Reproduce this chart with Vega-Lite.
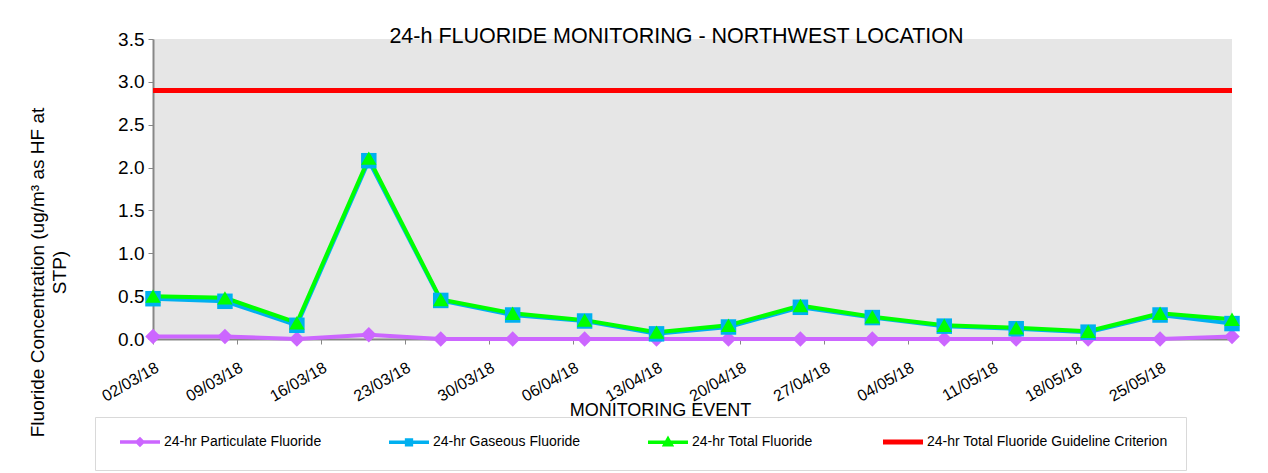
{
  "$schema": "https://vega.github.io/schema/vega-lite/v6.json",
  "width": 1079,
  "height": 300,
  "autosize": {"type": "none"},
  "padding": {"left": 153, "top": 39, "right": 36, "bottom": 134},
  "background": "white",
  "config": {
    "view": {"fill": "#E6E6E6", "stroke": null},
    "font": "Liberation Sans"
  },
  "title": {
    "text": "24-h FLUORIDE MONITORING - NORTHWEST LOCATION",
    "fontSize": 21.5,
    "fontWeight": "normal",
    "color": "#000000",
    "anchor": "middle",
    "frame": "group",
    "baseline": "alphabetic",
    "offset": 0,
    "dx": -16,
    "dy": 34
  },
  "datasets": {
    "obs": [
      {"date": "2018-03-02", "series": "24-hr Particulate Fluoride", "value": 0.03},
      {"date": "2018-03-08", "series": "24-hr Particulate Fluoride", "value": 0.03},
      {"date": "2018-03-14", "series": "24-hr Particulate Fluoride", "value": 0.0},
      {"date": "2018-03-20", "series": "24-hr Particulate Fluoride", "value": 0.05},
      {"date": "2018-03-26", "series": "24-hr Particulate Fluoride", "value": 0.0},
      {"date": "2018-04-01", "series": "24-hr Particulate Fluoride", "value": 0.0},
      {"date": "2018-04-07", "series": "24-hr Particulate Fluoride", "value": 0.0},
      {"date": "2018-04-13", "series": "24-hr Particulate Fluoride", "value": 0.0},
      {"date": "2018-04-19", "series": "24-hr Particulate Fluoride", "value": 0.0},
      {"date": "2018-04-25", "series": "24-hr Particulate Fluoride", "value": 0.0},
      {"date": "2018-05-01", "series": "24-hr Particulate Fluoride", "value": 0.0},
      {"date": "2018-05-07", "series": "24-hr Particulate Fluoride", "value": 0.0},
      {"date": "2018-05-13", "series": "24-hr Particulate Fluoride", "value": 0.0},
      {"date": "2018-05-19", "series": "24-hr Particulate Fluoride", "value": 0.0},
      {"date": "2018-05-25", "series": "24-hr Particulate Fluoride", "value": 0.0},
      {"date": "2018-05-31", "series": "24-hr Particulate Fluoride", "value": 0.03},
      {"date": "2018-03-02", "series": "24-hr Gaseous Fluoride", "value": 0.47},
      {"date": "2018-03-08", "series": "24-hr Gaseous Fluoride", "value": 0.44},
      {"date": "2018-03-14", "series": "24-hr Gaseous Fluoride", "value": 0.16},
      {"date": "2018-03-20", "series": "24-hr Gaseous Fluoride", "value": 2.08},
      {"date": "2018-03-26", "series": "24-hr Gaseous Fluoride", "value": 0.45},
      {"date": "2018-04-01", "series": "24-hr Gaseous Fluoride", "value": 0.28},
      {"date": "2018-04-07", "series": "24-hr Gaseous Fluoride", "value": 0.21},
      {"date": "2018-04-13", "series": "24-hr Gaseous Fluoride", "value": 0.06},
      {"date": "2018-04-19", "series": "24-hr Gaseous Fluoride", "value": 0.14},
      {"date": "2018-04-25", "series": "24-hr Gaseous Fluoride", "value": 0.37},
      {"date": "2018-05-01", "series": "24-hr Gaseous Fluoride", "value": 0.25},
      {"date": "2018-05-07", "series": "24-hr Gaseous Fluoride", "value": 0.15},
      {"date": "2018-05-13", "series": "24-hr Gaseous Fluoride", "value": 0.12},
      {"date": "2018-05-19", "series": "24-hr Gaseous Fluoride", "value": 0.08},
      {"date": "2018-05-25", "series": "24-hr Gaseous Fluoride", "value": 0.28},
      {"date": "2018-05-31", "series": "24-hr Gaseous Fluoride", "value": 0.18},
      {"date": "2018-03-02", "series": "24-hr Total Fluoride", "value": 0.50},
      {"date": "2018-03-08", "series": "24-hr Total Fluoride", "value": 0.48},
      {"date": "2018-03-14", "series": "24-hr Total Fluoride", "value": 0.19},
      {"date": "2018-03-20", "series": "24-hr Total Fluoride", "value": 2.11},
      {"date": "2018-03-26", "series": "24-hr Total Fluoride", "value": 0.46},
      {"date": "2018-04-01", "series": "24-hr Total Fluoride", "value": 0.30},
      {"date": "2018-04-07", "series": "24-hr Total Fluoride", "value": 0.22},
      {"date": "2018-04-13", "series": "24-hr Total Fluoride", "value": 0.08},
      {"date": "2018-04-19", "series": "24-hr Total Fluoride", "value": 0.16},
      {"date": "2018-04-25", "series": "24-hr Total Fluoride", "value": 0.39},
      {"date": "2018-05-01", "series": "24-hr Total Fluoride", "value": 0.26},
      {"date": "2018-05-07", "series": "24-hr Total Fluoride", "value": 0.16},
      {"date": "2018-05-13", "series": "24-hr Total Fluoride", "value": 0.13},
      {"date": "2018-05-19", "series": "24-hr Total Fluoride", "value": 0.09},
      {"date": "2018-05-25", "series": "24-hr Total Fluoride", "value": 0.30},
      {"date": "2018-05-31", "series": "24-hr Total Fluoride", "value": 0.23}
    ],
    "guide": [
      {"series": "24-hr Total Fluoride Guideline Criterion", "value": 2.9}
    ]
  },
  "layer": [
    {
      "data": {"name": "guide"},
      "mark": {"type": "rule", "strokeWidth": 5},
      "encoding": {
        "y": {"field": "value", "type": "quantitative", "scale": {"domain": [0, 3.5], "nice": false}},
        "color": {"field": "series", "type": "nominal"}
      }
    },
    {
      "data": {"name": "obs"},
      "mark": {"type": "line", "strokeWidth": 4},
      "encoding": {
        "x": {
          "field": "date",
          "type": "temporal",
          "scale": {
            "type": "utc",
            "domain": [
              {"year": 2018, "month": 3, "date": 2, "utc": true},
              {"year": 2018, "month": 5, "date": 31, "utc": true}
            ],
            "nice": false
          },
          "axis": {
            "title": "MONITORING EVENT",
            "values": [
              {"year": 2018, "month": 3, "date": 2, "utc": true},
              {"year": 2018, "month": 3, "date": 9, "utc": true},
              {"year": 2018, "month": 3, "date": 16, "utc": true},
              {"year": 2018, "month": 3, "date": 23, "utc": true},
              {"year": 2018, "month": 3, "date": 30, "utc": true},
              {"year": 2018, "month": 4, "date": 6, "utc": true},
              {"year": 2018, "month": 4, "date": 13, "utc": true},
              {"year": 2018, "month": 4, "date": 20, "utc": true},
              {"year": 2018, "month": 4, "date": 27, "utc": true},
              {"year": 2018, "month": 5, "date": 4, "utc": true},
              {"year": 2018, "month": 5, "date": 11, "utc": true},
              {"year": 2018, "month": 5, "date": 18, "utc": true},
              {"year": 2018, "month": 5, "date": 25, "utc": true}
            ],
            "format": "%d/%m/%y",
            "labelAngle": -30,
            "labelFontSize": 16,
            "labelColor": "#000000",
            "labelPadding": 15,
            "labelFlush": false,
            "labelOverlap": false,
            "tickColor": "#878787",
            "tickSize": 5,
            "tickWidth": 1,
            "domainColor": "#878787",
            "domainWidth": 2,
            "grid": false,
            "titleFontSize": 18,
            "titleFontWeight": "normal",
            "titleColor": "#000000",
            "titleX": 507,
            "titleY": 76,
            "titleAlign": "center",
            "titleBaseline": "alphabetic"
          }
        },
        "y": {
          "field": "value",
          "type": "quantitative",
          "scale": {"domain": [0, 3.5], "nice": false},
          "axis": {
            "title": ["Fluoride Concentration (ug/m³ as HF at", "STP)"],
            "values": [0, 0.5, 1, 1.5, 2, 2.5, 3, 3.5],
            "format": ".1f",
            "labelFontSize": 19,
            "labelColor": "#000000",
            "labelPadding": 4,
            "tickColor": "#878787",
            "tickSize": 5,
            "domainColor": "#878787",
            "domainWidth": 2,
            "grid": false,
            "titleFontSize": 19,
            "titleFontWeight": "normal",
            "titleColor": "#000000",
            "titleAngle": -90,
            "titleX": -125,
            "titleY": 233,
            "titleAlign": "center",
            "titleBaseline": "top",
            "titleLineHeight": 22
          }
        },
        "color": {
          "field": "series",
          "type": "nominal",
          "scale": {
            "domain": ["24-hr Particulate Fluoride", "24-hr Gaseous Fluoride", "24-hr Total Fluoride", "24-hr Total Fluoride Guideline Criterion"],
            "range": ["#CC66FF", "#00B0F0", "#00FF00", "#FF0000"]
          },
          "legend": {
            "orient": "none",
            "legendX": -58,
            "legendY": 378,
            "direction": "horizontal",
            "columns": 4,
            "columnPadding": 60,
            "title": null,
            "padding": 18,
            "strokeColor": "#D9D9D9",
            "labelFontSize": 14,
            "labelColor": "#000000",
            "labelOffset": 37,
            "labelLimit": 400,
            "symbolSize": 1600,
            "symbolType": "stroke",
            "symbolStrokeWidth": 3.5,
            "encode": {
              "symbols": {
                "update": {
                  "shape": {"signal": "datum.value === '24-hr Particulate Fluoride' ? 'M0,0H2M0.86,0L1,-0.14L1.14,0L1,0.14Z' : datum.value === '24-hr Gaseous Fluoride' ? 'M0,0H2M0.88,-0.12H1.12V0.12H0.88Z' : datum.value === '24-hr Total Fluoride' ? 'M0,0H2M1,-0.16L1.16,0.12H0.84Z' : 'M0,0H2'"},
                  "fill": {"signal": "scale('color', datum.value)"},
                  "stroke": {"signal": "scale('color', datum.value)"},
                  "strokeWidth": {"signal": "datum.value === '24-hr Total Fluoride Guideline Criterion' ? 5 : 3.5"},
                  "opacity": {"value": 1}
                }
              }
            }
          }
        }
      }
    },
    {
      "data": {"name": "obs"},
      "mark": {"type": "point", "filled": true, "opacity": 1, "size": 240},
      "encoding": {
        "x": {"field": "date", "type": "temporal"},
        "y": {"field": "value", "type": "quantitative"},
        "color": {"field": "series", "type": "nominal", "legend": null},
        "shape": {
          "field": "series",
          "type": "nominal",
          "scale": {
            "domain": ["24-hr Particulate Fluoride", "24-hr Gaseous Fluoride", "24-hr Total Fluoride"],
            "range": ["diamond", "square", "triangle-up"]
          },
          "legend": null
        }
      }
    }
  ]
}
